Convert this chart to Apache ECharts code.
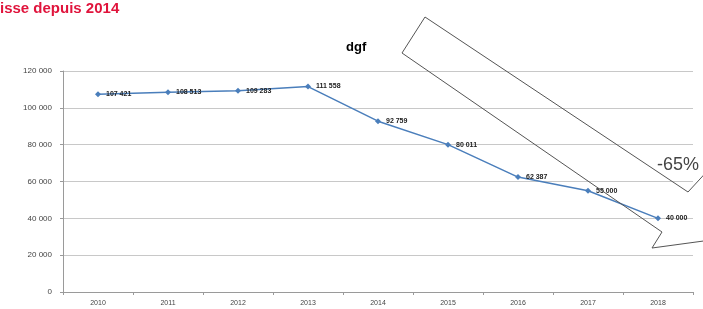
<!DOCTYPE html>
<html>
<head>
<meta charset="utf-8">
<script src="https://cdn.jsdelivr.net/npm/echarts@6/dist/echarts.min.js"></script>
<style>
  html, body { margin: 0; padding: 0; background: #fff; }
  #chart { width: 703px; height: 309px; }
</style>
</head>
<body>
<div id="chart"></div>
<script>
const years = ["2010", "2011", "2012", "2013", "2014", "2015", "2016", "2017", "2018"];
const values = [107421, 108513, 109283, 111558, 92759, 80011, 62387, 55000, 40000];
const valueLabels = ["107 421", "108 513", "109 283", "111 558", "92 759", "80 011", "62 387", "55 000", "40 000"];

const fmt = (v) => String(v).replace(/\B(?=(\d{3})+(?!\d))/g, " ");

const chart = echarts.init(document.getElementById("chart"));

chart.setOption({
  animation: false,
  backgroundColor: "#fff",
  textStyle: { fontFamily: "Liberation Sans, Arial, sans-serif" },
  title: {
    text: "dgf",
    left: 341,
    top: 36,
    textStyle: { fontSize: 13, fontWeight: "bold", color: "#000" },
  },
  grid: { left: 63, right: 10, top: 71, bottom: 17 },
  xAxis: {
    type: "category",
    data: years,
    boundaryGap: true,
    axisLine: { lineStyle: { color: "#9a9a9a" } },
    axisTick: { show: true, lineStyle: { color: "#9a9a9a" }, length: 3 },
    axisLabel: { color: "#444", fontSize: 7, margin: 8 },
  },
  yAxis: {
    type: "value",
    min: 0,
    max: 120000,
    interval: 20000,
    axisLine: { show: true, lineStyle: { color: "#9a9a9a" } },
    axisTick: { show: true, lineStyle: { color: "#9a9a9a" }, length: 3 },
    axisLabel: { color: "#444", fontSize: 8, margin: 11, formatter: fmt },
    splitLine: { lineStyle: { color: "#c8c8c8", width: 1 } },
  },
  series: [
    {
      type: "line",
      data: values,
      symbol: "diamond",
      symbolSize: 6,
      lineStyle: { color: "#4a7ebb", width: 1.5 },
      itemStyle: { color: "#4a7ebb" },
      label: {
        show: true,
        position: "right",
        distance: 5,
        fontSize: 7,
        fontWeight: "bold",
        color: "#222",
        formatter: (p) => valueLabels[p.dataIndex],
      },
    },
  ],
  graphic: [
    {
      type: "text",
      left: 0,
      top: 1,
      style: {
        text: "isse depuis 2014",
        fill: "#e0143c",
        font: "bold 15px Liberation Sans, Arial, sans-serif",
      },
    },
    {
      // hollow arrow drawn over the chart
      type: "polygon",
      shape: {
        points: [
          [425, 17], [688, 192], [712, 166], [770, 232],
          [652, 248], [662, 232], [402, 53],
        ],
      },
      style: { fill: "rgba(255,255,255,0)", stroke: "#555", lineWidth: 1 },
      z: 10,
    },
    {
      type: "text",
      left: 657,
      top: 156,
      style: {
        text: "-65%",
        fill: "#444",
        font: "18px Liberation Sans, Arial, sans-serif",
      },
      z: 11,
    },
  ],
});
</script>
</body>
</html>
